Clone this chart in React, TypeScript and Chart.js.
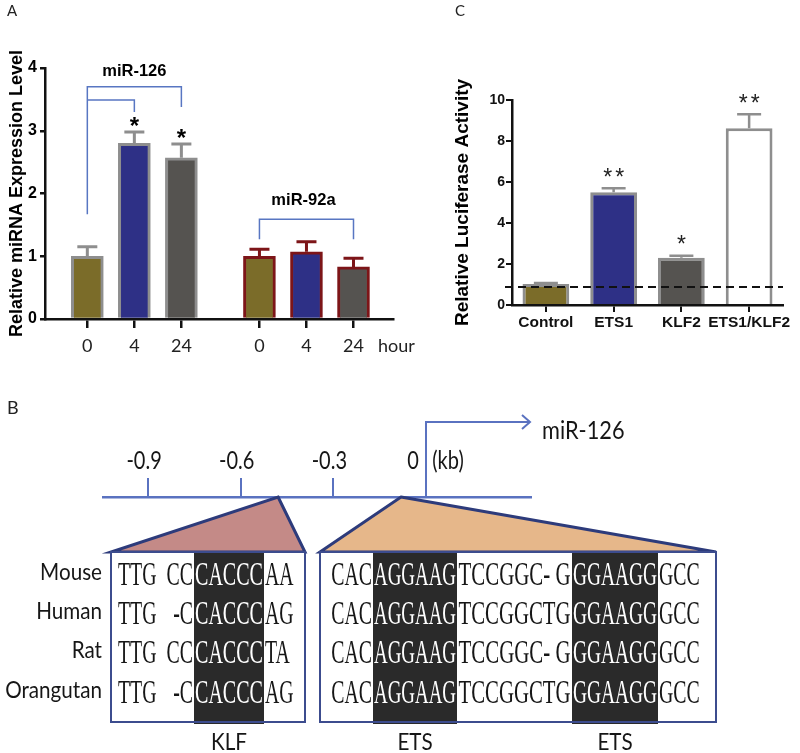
import React, { useEffect, useRef } from 'react';
import { Chart, registerables } from 'chart.js';

Chart.register(...registerables);

// ---------------- Panel A: relative miRNA expression ----------------
const timeLabels = ['0', '4', '24'];
const mir126Mean = [1.0, 2.8, 2.57];
const mir126Err = [0.15, 0.18, 0.22];
const mir92aMean = [1.0, 1.07, 0.83];
const mir92aErr = [0.11, 0.16, 0.14];
const mir126Sig = ['', '*', '*'];
const mir92aSig = ['', '', ''];
const groupGap = 3.66; // slot distance between the two miRNA groups

// ---------------- Panel C: luciferase activity ----------------
const lucLabels = ['Control', 'ETS1', 'KLF2', 'ETS1/KLF2'];
const lucMean = [1.02, 5.5, 2.31, 8.62];
const lucErr = [0.05, 0.19, 0.09, 0.68];
const lucSig = ['', '**', '*', '**'];
const lucBaseline = 0.88;

// ---------------- Panel B: promoter diagram ----------------
const kbTicks = [-0.9, -0.6, -0.3, 0];
const kbRange = [-1.046, 0.34];
const klfSiteKb = -0.479;
const etsSiteKb = -0.081;
const species = ['Mouse', 'Human', 'Rat', 'Orangutan'];
const klfRows = [
  ['TTG', 'CC', 'CACCC', 'AA'],
  ['TTG', '-C', 'CACCC', 'AG'],
  ['TTG', 'CC', 'CACCC', 'TA'],
  ['TTG', '-C', 'CACCC', 'AG'],
];
const etsRows = [
  ['CAC', 'AGGAAG', 'TCCGGC- G', 'GGAAGG', 'GCC'],
  ['CAC', 'AGGAAG', 'TCCGGCTG', 'GGAAGG', 'GCC'],
  ['CAC', 'AGGAAG', 'TCCGGC- G', 'GGAAGG', 'GCC'],
  ['CAC', 'AGGAAG', 'TCCGGCTG', 'GGAAGG', 'GCC'],
];
const motifNames = ['KLF', 'ETS', 'ETS'];

// ---------------- styles ----------------
const OLIVE = '#7b6c29';
const NAVY = '#2e3086';
const DGRAY = '#555350';
const GRAY_EDGE = '#8e8e8e';
const RED_EDGE = '#7d1518';
const BRACKET_BLUE = '#5876c2';
const AXIS_BLUE = '#5a72c0';
const TRI_EDGE = '#2d3b7b';
const BOX_EDGE = '#3c4c8e';
const INK = '#161616';

function txt(
  ctx: CanvasRenderingContext2D,
  text: string,
  x: number,
  y: number,
  font: string,
  align: CanvasTextAlign,
  sx: number,
  color: string,
  fitWidth?: number
) {
  ctx.save();
  ctx.font = font;
  ctx.fillStyle = color;
  ctx.textBaseline = 'alphabetic';
  ctx.textAlign = align;
  let s = sx;
  if (fitWidth) {
    const w = ctx.measureText(text).width;
    s = Math.min(sx, fitWidth / w);
  }
  ctx.translate(x, y);
  ctx.scale(s, 1);
  ctx.fillText(text, 0, 0);
  ctx.restore();
}

function PanelA() {
  const ref = useRef<HTMLCanvasElement>(null);
  useEffect(() => {
    const canvas = ref.current!;
    const means = [...mir126Mean, ...mir92aMean];
    const errs = [...mir126Err, ...mir92aErr];
    const sigs = [...mir126Sig, ...mir92aSig];
    const xs = means.map((_, i) => 1 + (i % 3) + Math.floor(i / 3) * groupGap);
    const fills = means.map((_, i) => [OLIVE, NAVY, DGRAY][i % 3]);
    const edges = means.map((_, i) => (i < 3 ? GRAY_EDGE : RED_EDGE));
    const slot = (t: number, g: number) => 1 + t + g * groupGap;

    const overlay = {
      id: 'overlayA',
      afterDatasetsDraw(chart: any) {
        const ctx: CanvasRenderingContext2D = chart.ctx;
        const x = chart.scales.x;
        const y = chart.scales.y;
        const meta = chart.getDatasetMeta(0);
        ctx.save();
        meta.data.forEach((bar: any, i: number) => {
          const top = y.getPixelForValue(means[i] + errs[i]);
          const base = y.getPixelForValue(means[i]);
          ctx.strokeStyle = edges[i];
          ctx.lineWidth = 3;
          ctx.beginPath();
          ctx.moveTo(bar.x, base);
          ctx.lineTo(bar.x, top);
          ctx.moveTo(bar.x - 10, top);
          ctx.lineTo(bar.x + 10, top);
          ctx.stroke();
          if (sigs[i]) {
            txt(ctx, sigs[i], bar.x, top - 11 + 13, 'bold 24px "Liberation Sans"', 'center', 1, '#000');
          }
        });
        // brackets
        const px = (t: number, g: number) => x.getPixelForValue(slot(t, g));
        const py = (v: number) => y.getPixelForValue(v);
        ctx.strokeStyle = BRACKET_BLUE;
        ctx.lineWidth = 1.5;
        ctx.beginPath();
        ctx.moveTo(px(0, 0), py(1.67));
        ctx.lineTo(px(0, 0), py(3.7));
        ctx.lineTo(px(2, 0), py(3.7));
        ctx.lineTo(px(2, 0), py(3.38));
        ctx.moveTo(px(0, 0), py(3.49));
        ctx.lineTo(px(1, 0), py(3.49));
        ctx.lineTo(px(1, 0), py(3.3));
        ctx.moveTo(px(0, 1), py(1.27));
        ctx.lineTo(px(0, 1), py(1.59));
        ctx.lineTo(px(2, 1), py(1.59));
        ctx.lineTo(px(2, 1), py(1.27));
        ctx.stroke();
        txt(ctx, 'miR-126', px(1, 0), py(3.97) + 6, 'bold 16.5px "Liberation Sans"', 'center', 1, '#000');
        txt(ctx, 'miR-92a', px(1, 1) - 3, py(1.91) + 6, 'bold 16.5px "Liberation Sans"', 'center', 1, '#000');
        txt(ctx, 'hour', 378, 352, '18px Lato', 'left', 1, '#222');
        txt(ctx, 'A', 7, 15.5, '15px Lato', 'left', 1, '#222');
        ctx.restore();
      },
    };

    const chart = new Chart(canvas, {
      type: 'bar',
      data: {
        datasets: [
          {
            data: xs.map((v, i) => ({ x: v, y: means[i] })) as any,
            backgroundColor: fills,
            borderColor: edges,
            borderWidth: 3,
            barThickness: 32,
          },
        ],
      },
      options: {
        animation: false,
        responsive: false,
        events: [],
        layout: { padding: { left: 0, top: 68, right: 27, bottom: 0 } },
        plugins: { legend: { display: false }, tooltip: { enabled: false } },
        scales: {
          x: {
            type: 'linear',
            min: 0.1,
            max: 7.5,
            offset: false,
            afterBuildTicks: (s: any) => {
              s.ticks = xs.map((v) => ({ value: v }));
            },
            afterFit: (s: any) => {
              s.height = 41;
            },
            grid: { drawOnChartArea: false, drawTicks: true, tickLength: 9, color: '#111', lineWidth: 2.5, offset: false },
            border: { display: true, color: '#111', width: 2.5, z: 1 },
            ticks: {
              autoSkip: false,
              maxRotation: 0,
              padding: 7,
              color: '#222',
              font: { family: 'Lato', size: 18 },
              callback: (_v: any, i: number) => timeLabels[i % timeLabels.length],
            },
          },
          y: {
            min: 0,
            max: 4,
            afterFit: (s: any) => {
              s.width = 45;
            },
            grid: { drawOnChartArea: false, drawTicks: true, tickLength: 5, color: '#111', lineWidth: 2.5 },
            border: { display: true, color: '#111', width: 2.5, z: 1 },
            ticks: { stepSize: 1, padding: 3, color: '#000', font: { family: 'Liberation Sans', size: 16, weight: 'bold' } },
            title: {
              display: true,
              text: 'Relative miRNA Expression Level',
              color: '#000',
              font: { family: 'Liberation Sans', size: 18, weight: 'bold' },
              padding: { top: 6, bottom: 0 },
            },
          },
        },
      } as any,
      plugins: [overlay],
    });
    return () => chart.destroy();
  }, []);
  return <canvas ref={ref} width={420} height={360} style={{ position: 'absolute', left: 0, top: 0 }} />;
}

function PanelC() {
  const ref = useRef<HTMLCanvasElement>(null);
  useEffect(() => {
    const canvas = ref.current!;
    const fills = [OLIVE, NAVY, DGRAY, '#ffffff'];
    const overlay = {
      id: 'overlayC',
      afterDatasetsDraw(chart: any) {
        const ctx: CanvasRenderingContext2D = chart.ctx;
        const y = chart.scales.y;
        const meta = chart.getDatasetMeta(0);
        ctx.save();
        meta.data.forEach((bar: any, i: number) => {
          const top = y.getPixelForValue(lucMean[i] + lucErr[i]);
          const base = y.getPixelForValue(lucMean[i]);
          ctx.strokeStyle = GRAY_EDGE;
          ctx.lineWidth = 2.5;
          ctx.beginPath();
          ctx.moveTo(bar.x, base);
          ctx.lineTo(bar.x, top);
          ctx.moveTo(bar.x - 12, top);
          ctx.lineTo(bar.x + 12, top);
          ctx.stroke();
          const s = lucSig[i];
          if (s) {
            const n = s.length;
            for (let k = 0; k < n; k++) {
              const cx = bar.x + (k - (n - 1) / 2) * 12;
              txt(ctx, '*', cx, top - 16 + 12.5, '23px "Liberation Sans"', 'center', 1, '#222');
            }
          }
        });
        const yb = y.getPixelForValue(lucBaseline);
        ctx.setLineDash([8, 5]);
        ctx.strokeStyle = '#111';
        ctx.lineWidth = 2;
        ctx.beginPath();
        ctx.moveTo(chart.chartArea.left - 7, yb);
        ctx.lineTo(chart.chartArea.right, yb);
        ctx.stroke();
        ctx.setLineDash([]);
        txt(ctx, 'C', 35, 15.5, '15px Lato', 'left', 1, '#222');
        ctx.restore();
      },
    };
    const chart = new Chart(canvas, {
      type: 'bar',
      data: {
        labels: lucLabels,
        datasets: [
          {
            data: lucMean,
            backgroundColor: fills,
            borderColor: GRAY_EDGE,
            borderWidth: 3,
            barPercentage: 0.69,
            categoryPercentage: 1,
          },
        ],
      },
      options: {
        animation: false,
        responsive: false,
        events: [],
        layout: { padding: { left: 0, top: 100, right: 17, bottom: 0 } },
        plugins: { legend: { display: false }, tooltip: { enabled: false } },
        scales: {
          x: {
            offset: true,
            afterFit: (s: any) => {
              s.height = 55;
            },
            grid: { offset: false, drawOnChartArea: false, drawTicks: true, tickLength: 7, color: '#111', lineWidth: 2 },
            border: { display: true, color: '#111', width: 2.5, z: 1 },
            ticks: {
              autoSkip: false,
              maxRotation: 0,
              padding: 1,
              color: '#111',
              font: { family: 'Liberation Sans', size: 15.5, weight: 'bold' },
            },
          },
          y: {
            min: 0,
            max: 10,
            afterFit: (s: any) => {
              s.width = 92;
            },
            grid: { drawOnChartArea: false, drawTicks: true, tickLength: 6, color: '#111', lineWidth: 2 },
            border: { display: true, color: '#111', width: 2.5, z: 1 },
            ticks: { stepSize: 2, padding: 1, color: '#111', font: { family: 'Liberation Sans', size: 14, weight: 'bold' } },
            title: {
              display: true,
              text: 'Relative Luciferase Activity',
              color: '#000',
              font: { family: 'Liberation Sans', size: 19, weight: 'bold' },
              padding: { top: 31, bottom: 0 },
            },
          },
        },
      } as any,
      plugins: [overlay],
    });
    return () => chart.destroy();
  }, []);
  return <canvas ref={ref} width={380} height={360} style={{ position: 'absolute', left: 420, top: 0 }} />;
}

function PanelB() {
  const ref = useRef<HTMLCanvasElement>(null);
  useEffect(() => {
    const canvas = ref.current!;
    const OFF = 360;
    const Y = (p: number) => p - OFF;
    const overlay = {
      id: 'overlayB',
      afterDraw(chart: any) {
        const ctx: CanvasRenderingContext2D = chart.ctx;
        const sx = chart.scales.x;
        const kx = (v: number) => sx.getPixelForValue(v);
        ctx.save();
        txt(ctx, 'B', 7, Y(414), '18px Lato', 'left', 1, '#222');

        // tick labels
        kbTicks.forEach((v) => {
          const label = v === 0 ? '0' : v.toFixed(1);
          txt(ctx, label, kx(v) - (v === 0 ? 13 : 4), Y(469), '25px Lato', 'center', 0.8, INK);
        });
        txt(ctx, '(kb)', kx(0) + 22, Y(469), '25px Lato', 'center', 0.8, INK);

        // transcription start arrow
        const x0 = kx(0);
        const ya = Y(422);
        const yb = Y(497);
        const xEnd = chart.chartArea.right - 1;
        ctx.strokeStyle = AXIS_BLUE;
        ctx.lineWidth = 2;
        ctx.beginPath();
        ctx.moveTo(x0, yb);
        ctx.lineTo(x0, ya);
        ctx.lineTo(xEnd, ya);
        ctx.moveTo(xEnd - 8, ya - 7);
        ctx.lineTo(xEnd, ya);
        ctx.lineTo(xEnd - 8, ya + 7);
        ctx.stroke();
        txt(ctx, 'miR-126', 542, Y(439), '25px Lato', 'left', 0.87, INK);

        // zoom triangles
        const topY = Y(552);
        const tri = (apex: number, l: number, r: number, fill: string) => {
          ctx.beginPath();
          ctx.moveTo(kx(apex), yb);
          ctx.lineTo(r, topY);
          ctx.lineTo(l, topY);
          ctx.closePath();
          ctx.fillStyle = fill;
          ctx.fill();
          ctx.strokeStyle = TRI_EDGE;
          ctx.lineWidth = 3;
          ctx.lineJoin = 'miter';
          ctx.stroke();
        };
        tri(klfSiteKb, 111, 305, '#c48a87');
        tri(etsSiteKb, 320, 716, '#e6b78a');

        // boxes
        const botY = Y(722);
        const boxes = [
          [111, 305],
          [320, 716],
        ];
        boxes.forEach(([l, r]) => {
          ctx.fillStyle = '#ffffff';
          ctx.fillRect(l, topY, r - l, botY - topY);
        });
        const cols = [
          [194, 264],
          [373, 457],
          [572, 658],
        ];
        ctx.fillStyle = '#2a2a2a';
        cols.forEach(([l, r]) => ctx.fillRect(l, topY, r - l, Y(724) - topY));
        ctx.strokeStyle = BOX_EDGE;
        ctx.lineWidth = 2;
        boxes.forEach(([l, r]) => ctx.strokeRect(l, topY, r - l, botY - topY));

        // sequences
        const rowC = [574, 613, 652, 692];
        const serif = '33px "Liberation Serif"';
        const base = (c: number) => Y(c) + 11;
        const SX = 0.6;
        klfRows.forEach((row, i) => {
          const b = base(rowC[i]);
          txt(ctx, row[0], 118, b, serif, 'left', SX, INK);
          txt(ctx, row[1], 193, b, serif, 'right', SX, INK);
          txt(ctx, row[2], (cols[0][0] + cols[0][1]) / 2, b, serif, 'center', 0.7, '#ffffff', cols[0][1] - cols[0][0] - 2);
          txt(ctx, row[3], 265, b, serif, 'left', SX, INK);
        });
        etsRows.forEach((row, i) => {
          const b = base(rowC[i]);
          txt(ctx, row[0], 372, b, serif, 'right', SX, INK);
          txt(ctx, row[1], (cols[1][0] + cols[1][1]) / 2, b, serif, 'center', 0.7, '#ffffff', cols[1][1] - cols[1][0] - 2);
          txt(ctx, row[2], (cols[1][1] + cols[2][0]) / 2, b, serif, 'center', 0.66, INK, cols[2][0] - cols[1][1] - 3);
          txt(ctx, row[3], (cols[2][0] + cols[2][1]) / 2, b, serif, 'center', 0.7, '#ffffff', cols[2][1] - cols[2][0] - 2);
          txt(ctx, row[4], 659, b, serif, 'left', SX, INK);
        });
        species.forEach((s, i) => {
          txt(ctx, s, 102, Y(rowC[i] - 3) + 8.6, '24px Lato', 'right', 0.86, INK);
        });
        motifNames.forEach((m, i) => {
          txt(ctx, m, (cols[i][0] + cols[i][1]) / 2, Y(750), '24px Lato', 'center', 0.86, INK);
        });
        ctx.restore();
      },
    };
    const chart = new Chart(canvas, {
      type: 'scatter',
      data: { datasets: [{ data: [] }] },
      options: {
        animation: false,
        responsive: false,
        events: [],
        layout: { padding: { left: 103, right: 269, top: 77, bottom: 0 } },
        plugins: { legend: { display: false }, tooltip: { enabled: false } },
        scales: {
          x: {
            type: 'linear',
            position: 'top',
            min: kbRange[0],
            max: kbRange[1],
            afterBuildTicks: (s: any) => {
              s.ticks = kbTicks.map((v) => ({ value: v }));
            },
            afterFit: (s: any) => {
              s.height = 60;
            },
            grid: { drawOnChartArea: false, drawTicks: true, tickLength: 19, color: AXIS_BLUE, lineWidth: 2 },
            border: { display: true, color: AXIS_BLUE, width: 2.5 },
            ticks: { display: false },
          },
          y: { display: false },
        },
      } as any,
      plugins: [overlay],
    });
    return () => chart.destroy();
  }, []);
  return <canvas ref={ref} width={800} height={393} style={{ position: 'absolute', left: 0, top: 360 }} />;
}

export default function App() {
  return (
    <div
      style={{
        position: 'absolute',
        left: 0,
        top: 0,
        width: 800,
        height: 753,
        background: '#ffffff',
        overflow: 'hidden',
      }}
    >
      <PanelA />
      <PanelC />
      <PanelB />
    </div>
  );
}
